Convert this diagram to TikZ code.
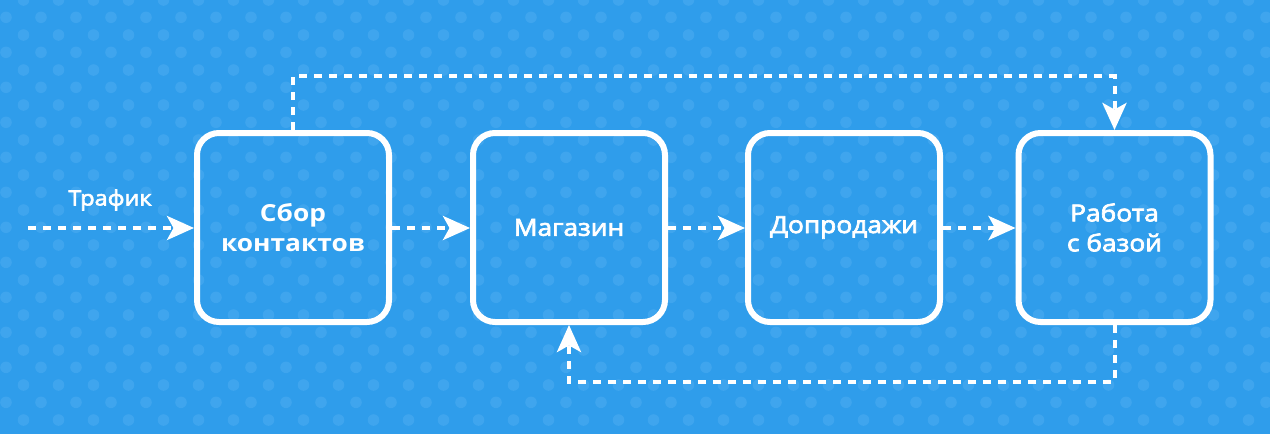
\documentclass[tikz,border=0pt]{standalone}
\usepackage{fontspec}
\setmainfont{Open Sans}[FakeStretch=1.12]
\newfontfamily\semib{Open Sans}[FakeBold=3,FakeStretch=1.12]
\usetikzlibrary{arrows.meta,calc}
\definecolor{bgblue}{RGB}{47,157,235}
\definecolor{dotblue}{RGB}{63,165,238}
\tikzset{
  box/.style={draw=white, line width=6pt, rounded corners=22pt, minimum width=192pt, minimum height=189pt, inner sep=0pt, align=center, text=white, font=\semib\fontsize{23.5}{30}\selectfont},
  flow/.style={draw=white, line width=4pt, dash pattern=on 8pt off 7pt, shorten >=16pt},
  tip/.style={draw=white, line width=4pt, -{Stealth[length=27pt,width=24pt,inset=6.5pt]}},
  lbl/.style={text=white, font=\semib\fontsize{21}{24}\selectfont, inner sep=0pt},
}
\begin{document}
\begin{tikzpicture}[x=1pt,y=-1pt]
\fill[bgblue] (0,0) rectangle (1270,434);
\useasboundingbox (0,0) rectangle (1270,434);
\foreach \i in {-1,...,37}{
  \foreach \j in {0,...,12}{
    \fill[dotblue] ({6+35*\i},{17.3+35*\j-35}) circle (5.8);
    \fill[dotblue] ({23.5+35*\i},{35+35*\j-35}) circle (5.8);
  }
}
\node[box, font=\bfseries\fontsize{23.5}{30}\selectfont] (b1) at (293,227.5) {Сбор\\контактов};
\node[box] (b2) at (569,227.5) {Магазин};
\node[box] (b3) at (844,227.5) {Допродажи};
\node[box] (b4) at (1114.5,227.5) {Работа\\с базой};
\coordinate (src) at (28,228);
\coordinate (topy) at (0,76);
\coordinate (boty) at (0,381.5);
\node[lbl] (traffic) at (110,200) {Трафик};
\draw[flow] (src) -- (src -| b1.west);
\draw[tip] ([xshift=-20pt]src -| b1.west) -- (src -| b1.west);
\foreach \a/\b in {b1/b2,b2/b3,b3/b4}{
  \draw[flow] ([yshift=-0.5pt]\a.east) -- ([yshift=-0.5pt]\b.west);
  \draw[tip] ([xshift=-20pt,yshift=-0.5pt]\b.west) -- ([yshift=-0.5pt]\b.west);
}
\draw[flow] (b1.north) -- (b1.north |- topy) -- (topy -| b4.north) -- (b4.north);
\draw[tip] ([yshift=20pt]b4.north) -- (b4.north);
\draw[flow] (b4.south) -- (b4.south |- boty) -- (boty -| b2.south) -- (b2.south);
\draw[tip] ([yshift=-20pt]b2.south) -- (b2.south);
\end{tikzpicture}
\end{document}
